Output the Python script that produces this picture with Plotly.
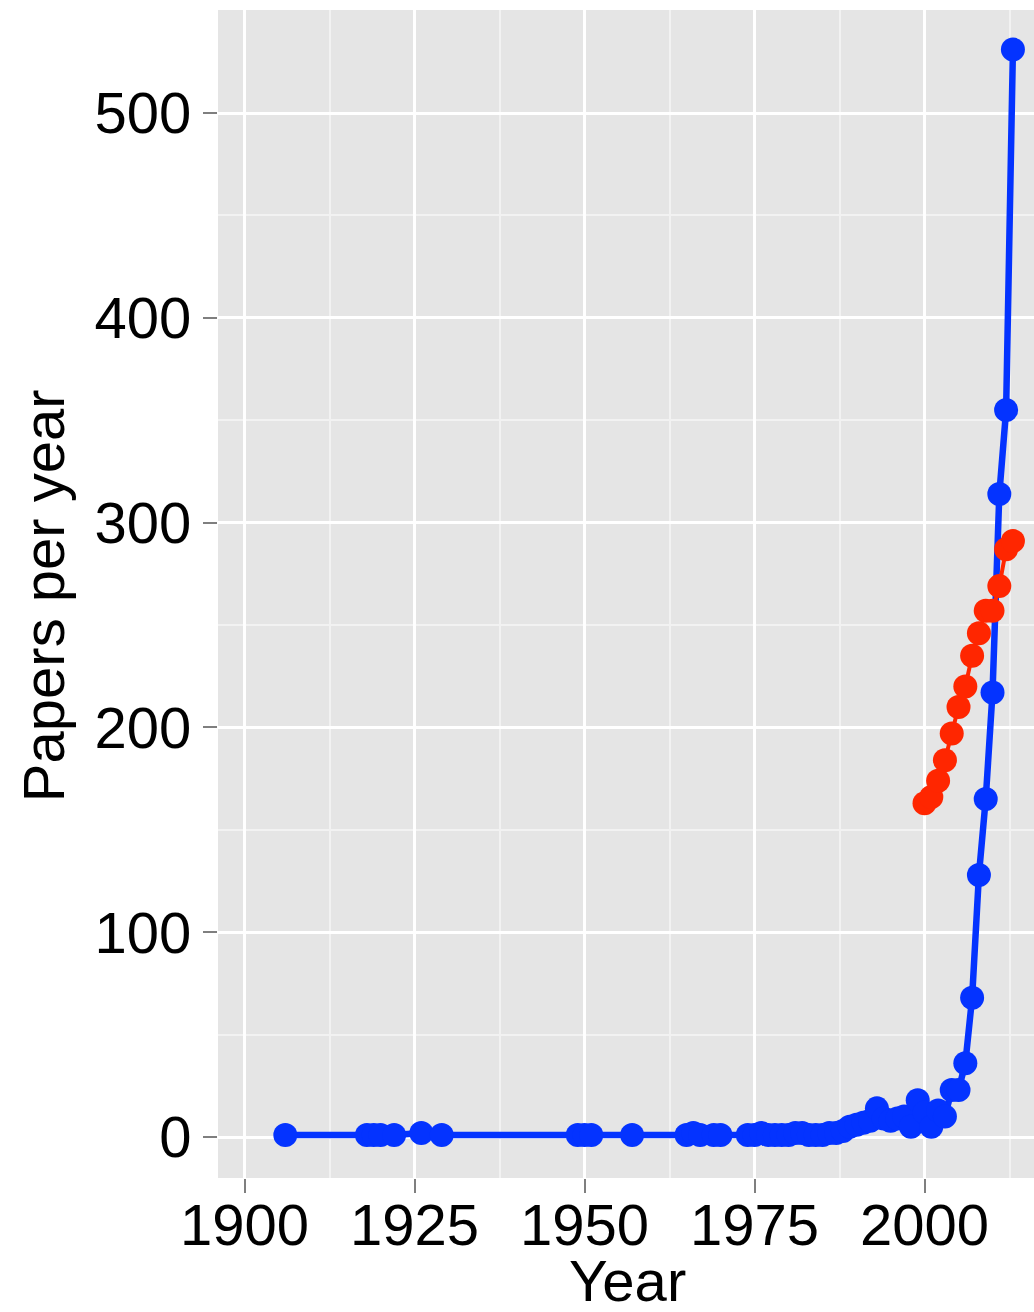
import plotly.graph_objects as go

# Papers per year (blue series)
blue_years = [1906, 1918, 1919, 1920, 1922, 1926, 1929, 1949, 1950, 1951, 1957,
              1965, 1966, 1967, 1969, 1970,
              1974, 1975, 1976, 1977, 1978, 1979, 1980, 1981, 1982, 1983,
              1984, 1985, 1986, 1987, 1988, 1989, 1990, 1991, 1992, 1993,
              1994, 1995, 1996, 1997, 1998, 1999, 2000, 2001, 2002, 2003,
              2004, 2005, 2006, 2007, 2008, 2009, 2010, 2011, 2012, 2013]
blue_papers = [1, 1, 1, 1, 1, 2, 1, 1, 1, 1, 1,
               1, 2, 1, 1, 1,
               1, 1, 2, 1, 1, 1, 1, 2, 2, 1,
               1, 1, 2, 2, 3, 5, 6, 7, 8, 14,
               9, 8, 9, 10, 5, 18, 12, 5, 13, 10,
               23, 23, 36, 68, 128, 165, 217, 314, 355, 531]

# Papers per year (red series)
red_years = [2000, 2001, 2002, 2003, 2004, 2005, 2006, 2007, 2008, 2009,
             2010, 2011, 2012, 2013]
red_papers = [163, 166, 174, 184, 197, 210, 220, 235, 246, 257,
              257, 269, 287, 291]

x_ticks = [1900, 1925, 1950, 1975, 2000]
y_ticks = [0, 100, 200, 300, 400, 500]

BLUE = "#0433FF"
RED = "#FF2600"
FONT = "Liberation Sans, Arial, sans-serif"

fig = go.Figure()
fig.add_trace(go.Scatter(
    x=blue_years, y=blue_papers, mode="lines+markers",
    line=dict(color=BLUE, width=6.5),
    marker=dict(color=BLUE, size=24, line=dict(width=0)),
    showlegend=False,
))
fig.add_trace(go.Scatter(
    x=red_years, y=red_papers, mode="lines+markers",
    line=dict(color=RED, width=4),
    marker=dict(color=RED, size=24, line=dict(width=0)),
    showlegend=False,
))

axis_common = dict(
    showline=False, zeroline=False, automargin=False,
    showgrid=True, gridcolor="white", gridwidth=3,
    ticks="outside", ticklen=14, tickwidth=2, tickcolor="#7F7F7F",
    tickfont=dict(family=FONT, size=58, color="black"),
)

fig.update_xaxes(
    range=[1896.1, 2016.1],
    tickmode="array", tickvals=x_ticks, ticktext=[str(v) for v in x_ticks],
    minor=dict(dtick=12.5, tick0=1900, showgrid=True, gridcolor="#F2F2F2",
               gridwidth=1.5, ticks=""),
    ticklabelstandoff=-18,
    **axis_common,
)
fig.update_yaxes(
    range=[-20, 550.3],
    tickmode="array", tickvals=y_ticks, ticktext=[str(v) for v in y_ticks],
    minor=dict(dtick=50, tick0=0, showgrid=True, gridcolor="#F2F2F2",
               gridwidth=1.5, ticks=""),
    **axis_common,
)

# Axis titles placed as annotations in paper coordinates
title_font = dict(family=FONT, size=58, color="black")
fig.add_annotation(text="Year", xref="paper", yref="paper",
                   x=0.502, y=-0.0875, xanchor="center", yanchor="middle",
                   height=60, showarrow=False, font=title_font)
fig.add_annotation(text="Papers per year", xref="paper", yref="paper",
                   x=-0.2145, y=0.499, xanchor="center", yanchor="middle",
                   textangle=-90, showarrow=False, font=title_font)

fig.update_layout(
    width=1034, height=1312,
    margin=dict(l=218, r=0, t=10, b=134),
    plot_bgcolor="#E5E5E5",
    paper_bgcolor="white",
    font=dict(family=FONT, color="black"),
)

fig.write_html("out.html")
